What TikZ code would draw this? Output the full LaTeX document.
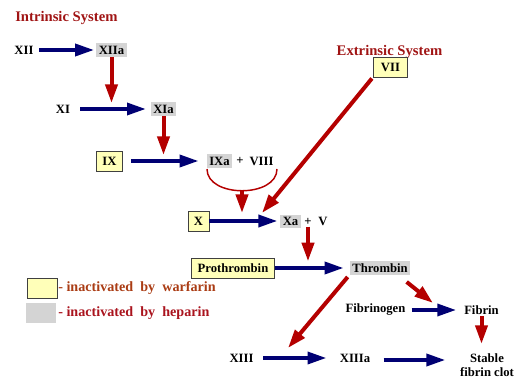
\documentclass[tikz,border=0pt]{standalone}
\usepackage{fontspec}
\setmainfont{Liberation Serif}
\usetikzlibrary{arrows.meta,calc}
\definecolor{navyb}{RGB}{0,0,115}
\definecolor{redb}{RGB}{180,0,0}
\definecolor{titlered}{RGB}{160,20,20}
\definecolor{warfcol}{RGB}{170,60,20}
\definecolor{hepcol}{RGB}{170,20,30}
\definecolor{grayf}{RGB}{212,212,212}
\definecolor{yellowf}{RGB}{255,255,185}
\begin{document}
\begin{tikzpicture}[x=0.75pt,y=-0.75pt,
  lbl/.style={font=\fontsize{9.5}{10.5}\selectfont\bfseries, inner sep=1pt},
  hepbox/.style={lbl, fill=grayf, inner xsep=2pt, inner ysep=1pt, minimum height=10pt},
  warfbox/.style={lbl, fill=yellowf, draw=black!75, line width=0.6pt, inner xsep=4.5pt, minimum height=15pt},
  bluearr/.style={navyb, line width=2.5pt, -{Triangle[length=14pt,width=9pt]}},
  redarr/.style={redb, line width=3pt, -{Triangle[length=14pt,width=9pt]}},
  systitle/.style={font=\fontsize{11}{12}\selectfont\bfseries, text=titlered, inner sep=0pt},
  legtext/.style={font=\fontsize{10.6}{12}\selectfont\bfseries, inner sep=0pt, anchor=west}
]
\useasboundingbox (0,0) rectangle (515,378);

% titles
\node[systitle, anchor=base west] (intr) at (15,22) {Intrinsic System};
\node[systitle, anchor=base] (extr) at (389.5,56) {Extrinsic System};

% nodes
\node[lbl] (XII) at (24,50) {XII};
\node[hepbox] (XIIa) at (111.5,50) {XIIa};
\node[lbl] (XI) at (63,109) {XI};
\node[hepbox] (XIa) at (163.5,109) {XIa};
\node[warfbox] (IX) at (109.5,161) {IX};
\node[hepbox] (IXa) at (219.5,161) {IXa};
\node[lbl] (plusA) at (240,161) {+};
\node[lbl] (VIII) at (261.5,161) {VIII};
\node[warfbox] (X) at (198.5,221) {X};
\node[hepbox] (Xa) at (290.5,221.5) {Xa};
\node[lbl] (plusB) at (308,221.5) {+};
\node[lbl] (V) at (323,221.5) {V};
\node[warfbox, minimum width=26pt] (VII) at (390.5,67) {VII};
\node[warfbox] (proth) at (233,268) {Prothrombin};
\node[hepbox] (thromb) at (380,268) {Thrombin};
\node[lbl] (fibgen) at (375.5,310) {Fibrinogen};
\node[lbl] (fibrin) at (481.5,310) {Fibrin};
\node[lbl] (XIII) at (241.5,358) {XIII};
\node[lbl] (XIIIa) at (355,358) {XIIIa};
\node[lbl, align=center, font=\fontsize{9.5}{10.5}\selectfont\bfseries] (stable) at (487,365) {Stable\\fibrin clot};

% legend
\node[draw=black!75, line width=0.6pt, fill=yellowf, minimum width=22.5pt, minimum height=15pt, inner sep=0pt] (legW) at (42,288) {};
\node[fill=grayf, minimum width=22.5pt, minimum height=15pt, inner sep=0pt] (legH) at (41,313) {};
\node[legtext, text=warfcol] (legWt) at (58,288) {- inactivated\ \ by\ \ warfarin};
\node[legtext, text=hepcol] (legHt) at (58,313) {- inactivated\ \ by\ \ heparin};

% helper coordinates
\coordinate (arcL) at (207,169);
\coordinate (arcR) at (277,169);
\coordinate (arcB) at (242,191);
\coordinate (xjoin) at (262,213);
\coordinate (xiiijoin) at (288,348);
\coordinate (fibjoin) at (433,303);

% blue arrows
\draw[bluearr, shorten <=3pt, shorten >=1.5pt] (XII) -- (XIIa);
\draw[bluearr, shorten <=6.5pt, shorten >=3.5pt] (XI) -- (XIa);
\draw[bluearr, shorten <=6pt, shorten >=6pt] (IX) -- (IXa);
\draw[bluearr, shorten >=2pt] (X.east) -- (X.east -| Xa.west);
\draw[bluearr, shorten >=4.5pt] (proth) -- (thromb);
\draw[bluearr, shorten <=3.5pt, shorten >=5pt] (fibgen) -- (fibrin);
\draw[bluearr, shorten <=6pt, shorten >=9pt] (XIII) -- (XIIIa);
\draw[bluearr, shorten <=9pt, shorten >=10pt] ($(XIIIa.east)+(0,2)$) -- ($(stable.west |- XIIIa.east)+(0,2)$);

% red arrows
\draw[redarr, shorten >=4.5pt] (XIIa.south) -- (XIIa.south |- XI);
\draw[redarr, shorten >=4.5pt] (XIa.south) -- (XIa.south |- IX);
\draw[redb, line width=1.1pt] (arcL) .. controls (207,198) and (277,198) .. (arcR);
\draw[redarr, shorten >=6pt] (arcB) -- (arcB |- X);
\draw[redarr, shorten <=1pt] (VII.south west) -- (xjoin);
\draw[redarr, shorten >=5pt] (plusB.south) -- (plusB.south |- thromb);
\draw[redarr, shorten <=2pt] (thromb.south west) -- (xiiijoin);
\draw[redarr] ($(thromb.south east)+(-4,7)$) -- (fibjoin);
\draw[redarr, shorten >=6pt] (fibrin.south) -- (fibrin.south |- stable.north);
\end{tikzpicture}
\end{document}
